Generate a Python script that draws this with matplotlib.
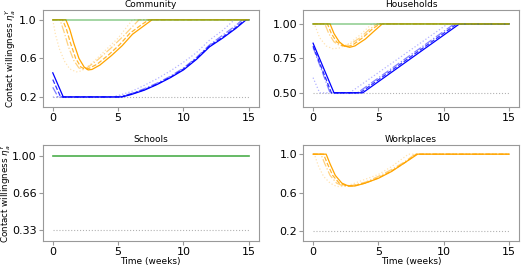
import matplotlib.pyplot as plt
import numpy as np

# contact willingness curves: [time (weeks), value]
com_orange = [
    [[0, 1], [1.0, 1], [1.3, 0.9], [1.6, 0.76], [2.0, 0.6], [2.4, 0.51], [2.7, 0.48], [3.0, 0.485],
     [3.6, 0.53], [4.5, 0.63], [5.3, 0.73], [6.1, 0.85], [7.0, 0.94], [7.6, 1.0], [15, 1.0]],
    [[0, 1], [0.75, 1], [1.05, 0.9], [1.35, 0.76], [1.75, 0.6], [2.15, 0.51], [2.45, 0.49], [2.75, 0.495],
     [3.4, 0.54], [4.3, 0.64], [5.1, 0.74], [5.9, 0.86], [6.8, 0.95], [7.35, 1.0], [15, 1.0]],
    [[0, 1], [0.55, 1], [0.85, 0.88], [1.2, 0.72], [1.6, 0.58], [2.0, 0.5], [2.3, 0.49], [2.6, 0.5],
     [3.4, 0.58], [4.4, 0.7], [5.4, 0.83], [6.6, 1.0], [15, 1.0]],
    [[0, 1], [0.2, 0.85], [0.5, 0.7], [0.9, 0.57], [1.3, 0.49], [1.8, 0.46], [2.2, 0.47], [3.0, 0.55],
     [4.0, 0.68], [5.0, 0.81], [6.1, 1.0], [15, 1.0]],
]
com_blue = [
    [[0, 0.45], [0.8, 0.2], [5.3, 0.2], [6, 0.225], [7, 0.27], [8, 0.33], [9, 0.4], [10, 0.48],
     [11, 0.59], [12, 0.72], [13, 0.81], [14, 0.91], [14.8, 1.0], [15, 1.0]],
    [[0, 0.38], [0.6, 0.2], [5.2, 0.2], [6, 0.23], [7, 0.275], [8, 0.335], [9, 0.405], [10, 0.49],
     [11, 0.6], [12, 0.73], [13, 0.82], [14, 0.92], [14.7, 1.0], [15, 1.0]],
    [[0, 0.3], [0.4, 0.2], [5.0, 0.2], [6, 0.235], [7, 0.285], [8, 0.345], [9, 0.415], [10, 0.5],
     [11, 0.61], [12, 0.74], [13, 0.84], [14, 0.94], [14.5, 1.0], [15, 1.0]],
    [[0, 0.2], [4.5, 0.2], [5, 0.215], [6, 0.255], [7, 0.32], [8, 0.39], [9, 0.47], [10, 0.56],
     [11, 0.66], [12, 0.79], [13, 0.89], [13.9, 1.0], [15, 1.0]],
]
hh_orange = [
    [[0, 1], [1.3, 1], [1.6, 0.93], [2.0, 0.87], [2.4, 0.84], [2.8, 0.83], [3.2, 0.84], [4.0, 0.89],
     [4.7, 0.95], [5.3, 1.0], [15, 1.0]],
    [[0, 1], [1.1, 1], [1.4, 0.93], [1.8, 0.87], [2.2, 0.845], [2.6, 0.835], [3.0, 0.845], [3.8, 0.9],
     [4.5, 0.96], [5.1, 1.0], [15, 1.0]],
    [[0, 1], [0.9, 1], [1.2, 0.93], [1.6, 0.87], [2.0, 0.845], [2.4, 0.84], [2.8, 0.85], [3.6, 0.9],
     [4.3, 0.96], [4.9, 1.0], [15, 1.0]],
    [[0, 1], [0.1, 1], [0.5, 0.9], [1.0, 0.84], [1.5, 0.82], [2.0, 0.825], [2.8, 0.86], [3.6, 0.92],
     [4.5, 1.0], [15, 1.0]],
]
hh_blue = [
    [[0, 0.86], [1.6, 0.5], [3.8, 0.5], [11.2, 1.0], [15, 1.0]],
    [[0, 0.84], [1.4, 0.5], [3.6, 0.5], [11.0, 1.0], [15, 1.0]],
    [[0, 0.83], [1.3, 0.5], [3.4, 0.5], [10.8, 1.0], [15, 1.0]],
    [[0, 0.61], [0.5, 0.5], [2.8, 0.5], [10.3, 1.0], [15, 1.0]],
]
wp_orange = [
    [[0, 1], [1.0, 1], [1.3, 0.9], [1.7, 0.78], [2.2, 0.7], [2.7, 0.67], [3.2, 0.67], [4, 0.7],
     [5, 0.75], [6, 0.82], [7, 0.91], [8, 1.0], [15, 1.0]],
    [[0, 1], [0.8, 1], [1.1, 0.9], [1.5, 0.78], [2.0, 0.7], [2.5, 0.675], [3.0, 0.67], [4, 0.7],
     [5, 0.755], [6, 0.825], [7, 0.91], [7.9, 1.0], [15, 1.0]],
    [[0, 1], [0.6, 1], [0.9, 0.9], [1.3, 0.78], [1.8, 0.7], [2.3, 0.67], [2.8, 0.67], [4, 0.71],
     [5, 0.77], [6, 0.84], [7, 0.92], [7.8, 1.0], [15, 1.0]],
    [[0, 1], [0.1, 1], [0.4, 0.88], [0.8, 0.77], [1.3, 0.7], [1.8, 0.665], [2.3, 0.665], [3, 0.69],
     [4, 0.74], [5, 0.79], [6, 0.87], [7.3, 1.0], [15, 1.0]],
]
titles = ['Community', 'Households', 'Schools', 'Workplaces']
floors = [0.2, 0.5, 0.33, 0.2]
yticks = [[0.2, 0.6, 1.0], [0.5, 0.75, 1.0], [0.33, 0.66, 1.0], [0.2, 0.6, 1.0]]
ytick_labels = [['0.2', '0.6', '1.0'], ['0.50', '0.75', '1.00'],
                ['0.33', '0.66', '1.00'], ['0.2', '0.6', '1.0']]
has_green = [True, True, True, False]
oranges = [com_orange, hh_orange, None, wp_orange]
blues = [com_blue, hh_blue, None, None]

styles = ['-', '--', '-.', ':']
alphas = [1.0, 0.8, 0.5, 0.3]
t_full = [0, 15]

fig, axes = plt.subplots(2, 2, figsize=(5.21, 2.66), dpi=100)
fig.subplots_adjust(left=0.0825, right=0.996, top=0.962, bottom=0.094, wspace=0.207, hspace=0.393)

for i, ax in enumerate(axes.flat):
    ax.plot(t_full, [floors[i]] * 2, ':', color='grey', lw=0.8, alpha=0.6)
    for curves, col in [(blues[i], 'blue'), (oranges[i], 'orange')]:
        if curves is None:
            continue
        for c, ls, a in zip(curves, styles, alphas):
            c = np.array(c)
            ax.plot(c[:, 0], c[:, 1], ls, color=col, alpha=a, lw=0.9)
    if has_green[i]:
        ga = 0.85 if titles[i] == 'Schools' else 0.5
        ax.plot(t_full, [1.0, 1.0], '-', color='tab:green', alpha=ga, lw=1.2)
    ax.set_title(titles[i], fontsize=6.5, pad=2)
    ax.set_xlim(-0.75, 15.75)
    ax.set_ylim(floors[i] - 0.1, 1.1)
    ax.set_xticks([0, 5, 10, 15])
    ax.set_yticks(yticks[i])
    ax.set_yticklabels(ytick_labels[i])
    ax.tick_params(labelsize=8, color='#999999', length=3, pad=1.5)
    for s in ax.spines.values():
        s.set_color('#999999')
    if i % 2 == 0:
        ax.set_ylabel(r'Contact willingness $\eta_a^Y$', fontsize=6.3)
        ax.yaxis.set_label_coords(-0.118 if i == 0 else -0.137, 0.5)
    if i >= 2:
        ax.set_xlabel('Time (weeks)', fontsize=6.5, labelpad=0)

plt.savefig('out.png', dpi=100)
